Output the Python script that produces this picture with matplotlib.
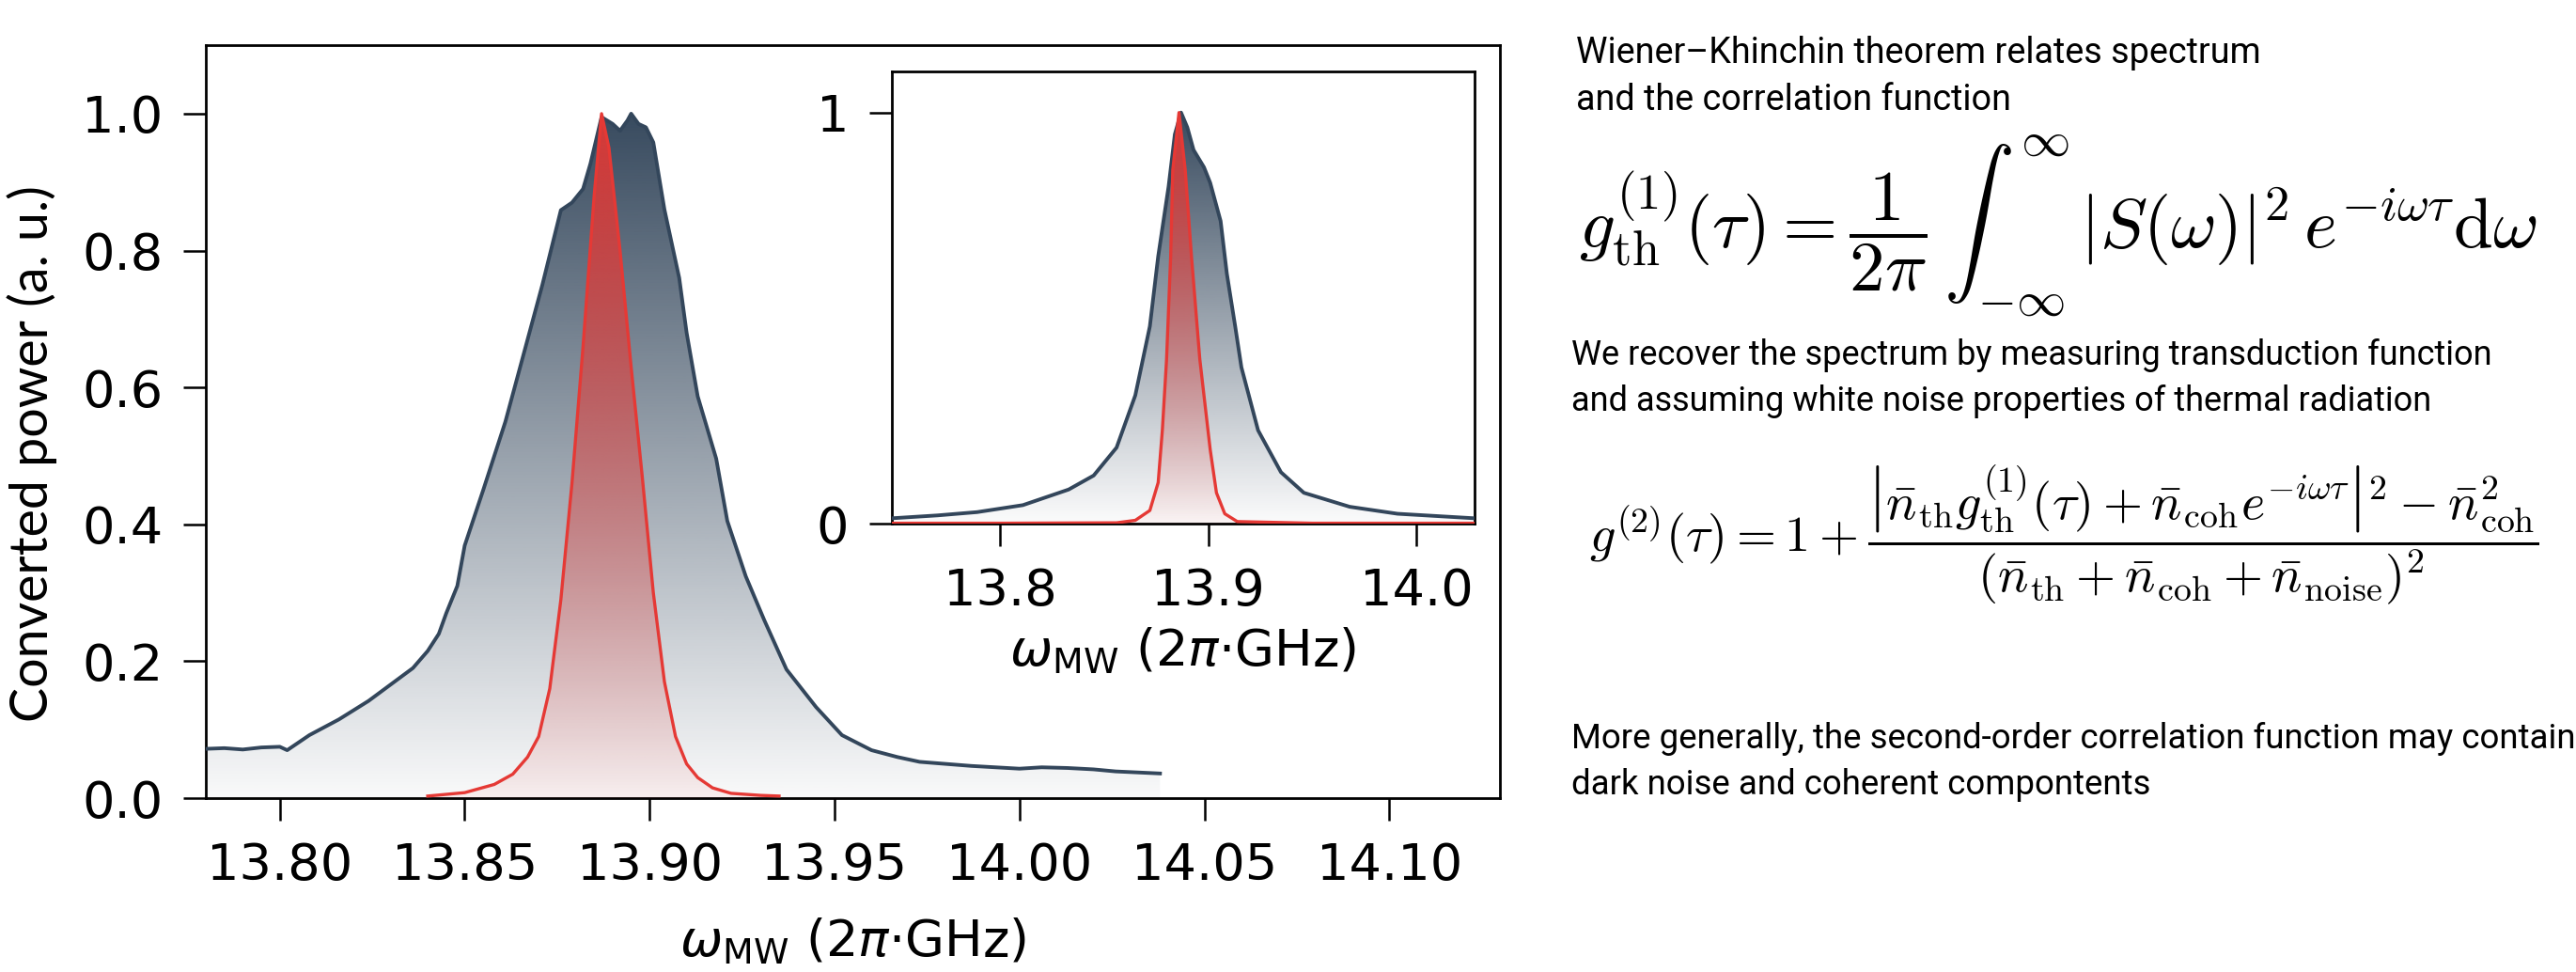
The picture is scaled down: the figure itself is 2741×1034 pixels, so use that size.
"""Спектр преобразованной мощности + вставка, справа формулы Винера-Хинчина."""
import numpy as np
import matplotlib
matplotlib.use("Agg")
import matplotlib.pyplot as plt
import matplotlib.colors as mcolors
from matplotlib.patches import Polygon

# --- данные ---
main_dark_x = [13.780, 13.785, 13.790, 13.795, 13.800, 13.802, 13.808, 13.816, 13.824, 13.832,
               13.836, 13.840, 13.843, 13.845, 13.848, 13.850, 13.855, 13.858, 13.861, 13.866,
               13.871, 13.876, 13.879, 13.882, 13.884, 13.887, 13.890, 13.892, 13.894, 13.895,
               13.897, 13.899, 13.901, 13.904, 13.908, 13.910, 13.913, 13.918, 13.921, 13.926,
               13.931, 13.937, 13.945, 13.952, 13.960, 13.967, 13.973, 13.980, 13.987, 14.000,
               14.006, 14.013, 14.020, 14.026, 14.038]
main_dark_y = [0.072, 0.073, 0.071, 0.074, 0.075, 0.070, 0.092, 0.115, 0.142, 0.174,
               0.190, 0.215, 0.240, 0.270, 0.310, 0.369, 0.450, 0.500, 0.550, 0.650,
               0.750, 0.859, 0.870, 0.890, 0.927, 0.995, 0.985, 0.975, 0.990, 1.000,
               0.985, 0.980, 0.958, 0.860, 0.760, 0.680, 0.587, 0.496, 0.405, 0.324,
               0.260, 0.188, 0.133, 0.092, 0.070, 0.060, 0.053, 0.050, 0.047, 0.043,
               0.045, 0.044, 0.042, 0.039, 0.036]

main_red_x = [13.840, 13.850, 13.858, 13.863, 13.867, 13.870, 13.873, 13.876, 13.879, 13.882,
              13.885, 13.887, 13.889, 13.892, 13.895, 13.898, 13.901, 13.904, 13.907, 13.910,
              13.913, 13.917, 13.922, 13.930, 13.935]
main_red_y = [0.003, 0.008, 0.020, 0.035, 0.060, 0.090, 0.160, 0.290, 0.460, 0.660,
              0.880, 1.000, 0.950, 0.800, 0.630, 0.470, 0.300, 0.170, 0.090, 0.050,
              0.030, 0.015, 0.007, 0.004, 0.003]

inset_dark_x = [13.748, 13.770, 13.789, 13.811, 13.833, 13.845, 13.856, 13.865, 13.872, 13.876,
                13.881, 13.884, 13.887, 13.890, 13.893, 13.898, 13.901, 13.906, 13.909, 13.913,
                13.916, 13.924, 13.935, 13.946, 13.968, 13.991, 14.028]
inset_dark_y = [0.013, 0.020, 0.028, 0.045, 0.083, 0.117, 0.185, 0.312, 0.480, 0.650,
                0.820, 0.947, 1.000, 0.964, 0.909, 0.867, 0.829, 0.736, 0.608, 0.480,
                0.380, 0.227, 0.125, 0.075, 0.041, 0.024, 0.013]

inset_red_x = [13.748, 13.800, 13.856, 13.865, 13.872, 13.876, 13.878, 13.880, 13.882, 13.883,
               13.886, 13.889, 13.892, 13.896, 13.901, 13.904, 13.908, 13.914, 13.950, 14.028]
inset_red_y = [0.001, 0.001, 0.002, 0.008, 0.032, 0.100, 0.227, 0.397, 0.650, 0.860,
               1.000, 0.860, 0.650, 0.400, 0.180, 0.075, 0.024, 0.005, 0.001, 0.001]

main_xticks = [13.80, 13.85, 13.90, 13.95, 14.00, 14.05, 14.10]
main_yticks = [0.0, 0.2, 0.4, 0.6, 0.8, 1.0]
inset_xticks = [13.8, 13.9, 14.0]
inset_yticks = [0, 1]

DARK = "#33465b"
RED = "#e53935"
TICK_FS = 19.5
TXT_FONT = ["Roboto", "DejaVu Sans"]


def gradient_fill(ax, x, y, color, a_bot, a_top, zorder):
    x = np.asarray(x)
    y = np.asarray(y)
    img = np.zeros((256, 1, 4))
    img[..., :3] = mcolors.to_rgb(color)
    img[..., 3] = np.linspace(a_bot, a_top, 256)[:, None]
    im = ax.imshow(img, aspect="auto", origin="lower", zorder=zorder,
                   extent=[x.min(), x.max(), 0, y.max()])
    verts = np.vstack([[x[0], 0], np.column_stack([x, y]), [x[-1], 0]])
    clip = Polygon(verts, closed=True, facecolor="none", edgecolor="none")
    ax.add_patch(clip)
    im.set_clip_path(clip)


def style_axes(ax):
    for s in ax.spines.values():
        s.set_linewidth(1.0)
    ax.tick_params(direction="out", length=8.5, width=0.9, labelsize=TICK_FS, pad=8)


fig = plt.figure(figsize=(13.705, 5.17), dpi=200)

# основной график
ax = fig.add_axes([0.0799, 0.1789, 0.5025, 0.7746])
gradient_fill(ax, main_dark_x, main_dark_y, DARK, 0.03, 0.98, 1)
ax.plot(main_dark_x, main_dark_y, color=DARK, lw=1.4, zorder=3)
gradient_fill(ax, main_red_x, main_red_y, RED, 0.06, 0.92, 4)
ax.plot(main_red_x, main_red_y, color=RED, lw=1.2, zorder=5)
ax.set_xlim(13.78, 14.13)
ax.set_ylim(0, 1.1)
ax.set_xticks(main_xticks)
ax.set_xticklabels([f"{v:.2f}" for v in main_xticks])
ax.set_yticks(main_yticks)
ax.set_yticklabels([f"{v:.1f}" for v in main_yticks])
style_axes(ax)
ax.set_xlabel(r"$\omega_{\rm MW}$ (2$\pi$·GHz)", fontsize=TICK_FS, labelpad=10)

fig.text(0.0125, 0.533, "Converted power (a. u.)", rotation=90, ha="center", va="center",
         fontsize=20, family=["Lato", "DejaVu Sans"])

# вставка
axi = fig.add_axes([0.3462, 0.4613, 0.2262, 0.4652])
gradient_fill(axi, inset_dark_x, inset_dark_y, DARK, 0.02, 0.98, 1)
axi.plot(inset_dark_x, inset_dark_y, color=DARK, lw=1.4, zorder=3)
gradient_fill(axi, inset_red_x, inset_red_y, RED, 0.04, 0.92, 4)
axi.plot(inset_red_x, inset_red_y, color=RED, lw=1.2, zorder=5)
axi.set_xlim(13.748, 14.028)
axi.set_ylim(0, 1.1)
axi.set_xticks(inset_xticks)
axi.set_xticklabels([f"{v:.1f}" for v in inset_xticks])
axi.set_yticks(inset_yticks)
style_axes(axi)
axi.set_xlabel(r"$\omega_{\rm MW}$ (2$\pi$·GHz)", fontsize=TICK_FS, labelpad=4)

# текст и формулы справа
plt.rcParams["mathtext.fontset"] = "cm"
fig.text(0.612, 0.921, "Wiener–Khinchin theorem relates spectrum\nand the correlation function",
         fontsize=13.6, family=TXT_FONT, va="center", linespacing=1.45)
fig.text(0.613, 0.767,
         r"$g^{(1)}_{\mathrm{th}}(\tau) = \dfrac{1}{2\pi}\,\int_{-\infty}^{\infty}\,"
         r"|S(\omega)|^2\,e^{-i\omega\tau}\mathrm{d}\omega$",
         fontsize=27, va="center")
fig.text(0.610, 0.611, "We recover the spectrum by measuring transduction function\n"
         "and assuming white noise properties of thermal radiation",
         fontsize=13, family=TXT_FONT, va="center", linespacing=1.45)
fig.text(0.617, 0.449,
         r"$g^{(2)}(\tau) = 1 + \dfrac{\left|\bar{n}_{\mathrm{th}}g^{(1)}_{\mathrm{th}}(\tau)"
         r" + \bar{n}_{\mathrm{coh}}e^{-i\omega\tau}\right|^2 - \bar{n}^2_{\mathrm{coh}}}"
         r"{(\bar{n}_{\mathrm{th}} + \bar{n}_{\mathrm{coh}} + \bar{n}_{\mathrm{noise}})^2}$",
         fontsize=19.5, va="center")
fig.text(0.610, 0.216, "More generally, the second-order correlation function may contain\n"
         "dark noise and coherent compontents",
         fontsize=13.2, family=TXT_FONT, va="center", linespacing=1.45)

fig.savefig("out.png", dpi=200)
